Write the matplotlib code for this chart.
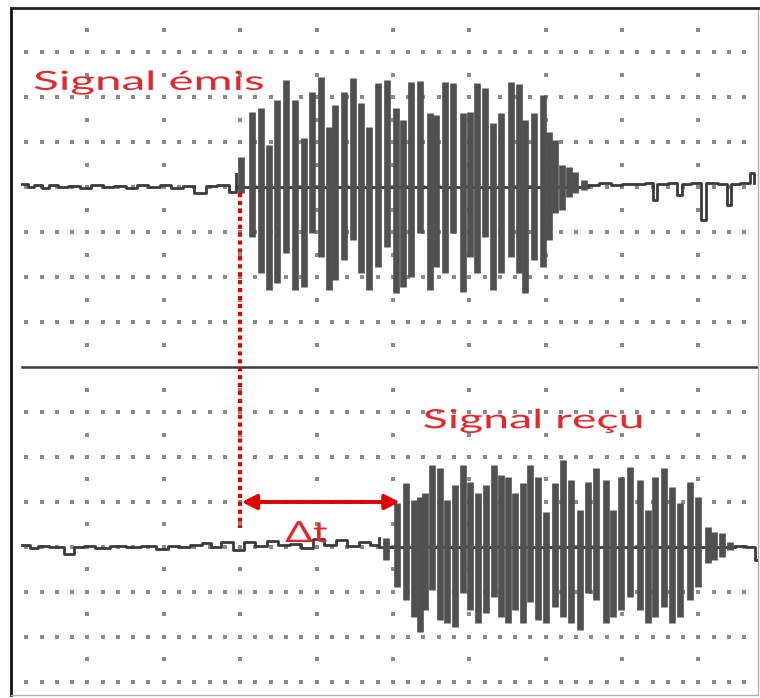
#!/usr/bin/env python
# -*- coding: utf-8 -*-

import numpy as np
import matplotlib
matplotlib.use('Agg')
import matplotlib.pyplot as plt
from matplotlib import patheffects
from matplotlib.transforms import Affine2D

# unites : divisions de l'ecran (x : temps, y : tension relative a la voie)
VOIE_EMIS = 4.0
VOIE_RECU = -4.0

# salve emise : position des barres et extremes haut / bas
emis_x = [3.01, 3.15, 3.27, 3.38, 3.48, 3.60, 3.72, 3.84, 3.94, 4.06,
          4.16, 4.24, 4.36, 4.48, 4.58, 4.69, 4.80, 4.92, 5.04, 5.13,
          5.24, 5.35, 5.48, 5.56, 5.68, 5.79, 5.92, 6.01, 6.10, 6.20,
          6.31, 6.41, 6.54, 6.65, 6.73, 6.85, 6.96, 7.05, 7.12, 7.21,
          7.30, 7.38, 7.50]
emis_hi = [0.67, 1.67, 1.76, 0.93, 1.93, 2.38, 1.93, 1.09, 2.11, 2.44,
           1.33, 1.82, 2.11, 2.42, 1.87, 1.33, 2.31, 2.38, 1.76, 1.49,
           2.33, 2.36, 1.64, 1.60, 2.34, 2.31, 1.64, 1.67, 2.31, 2.20,
           1.42, 1.64, 2.33, 2.30, 1.49, 1.64, 2.04, 1.22, 1.04, 0.49,
           0.44, 0.33, 0.16]
emis_lo = [-0.13, -1.11, -1.91, -2.29, -2.13, -1.47, -2.29, -2.22, -1.02, -1.56,
           -2.29, -2.07, -1.62, -1.18, -1.91, -2.29, -1.78, -1.33, -2.36, -2.22,
           -2.00, -1.02, -2.29, -1.78, -1.91, -1.02, -2.33, -1.56, -1.91, -1.11,
           -2.29, -1.91, -1.56, -1.91, -2.36, -1.62, -1.78, -1.18, -0.58, -0.51,
           -0.22, -0.13, -0.07]

# bruit de la voie emise avant / apres la salve
emis_pre_x = [0.15, 0.22, 0.30, 0.40, 0.50, 0.62, 0.75, 0.90, 1.05, 1.20, 1.35,
              1.50, 1.65, 1.80, 1.95, 2.10, 2.25, 2.40, 2.55, 2.70, 2.85, 2.95]
emis_pre_y = [0.06, 0.01, 0.05, -0.02, 0.04, 0.00, 0.03, -0.03, 0.05, 0.00, 0.03,
              -0.02, 0.04, 0.00, 0.05, -0.03, 0.03, -0.14, 0.02, 0.04, -0.12, 0.30]
emis_post_x = [7.55, 7.70, 7.85, 8.00, 8.15, 8.30, 8.40, 8.46, 8.60, 8.72,
               8.78, 8.90, 9.04, 9.10, 9.25, 9.37, 9.43, 9.55, 9.67, 9.73]
emis_post_y = [0.04, 0.08, 0.05, 0.07, 0.06, 0.08, -0.29, 0.07, 0.08, -0.18,
               0.07, 0.09, -0.73, 0.08, 0.06, -0.40, 0.07, 0.09, 0.31, 0.08]

# salve recue
recu_x = [4.91, 5.05, 5.17, 5.27, 5.35, 5.42, 5.51, 5.62, 5.71, 5.81,
          5.92, 6.01, 6.11, 6.22, 6.32, 6.41, 6.51, 6.60, 6.70, 6.79,
          6.90, 7.00, 7.12, 7.23, 7.33, 7.45, 7.55, 7.66, 7.79, 7.88,
          7.98, 8.10, 8.23, 8.34, 8.43, 8.55, 8.66, 8.76, 8.89, 8.99,
          9.12, 9.20, 9.31, 9.41]
recu_hi = [0.20, 0.98, 1.42, 1.04, 1.11, 1.20, 1.82, 1.76, 1.04, 1.38,
           1.82, 1.44, 1.20, 1.38, 1.82, 1.60, 1.56, 1.20, 1.42, 1.82,
           1.56, 0.78, 1.42, 1.93, 1.49, 0.82, 1.44, 1.76, 1.49, 0.82,
           1.56, 1.78, 1.49, 0.82, 1.56, 1.76, 1.33, 0.98, 1.44, 1.11,
           0.44, 0.33, 0.31, 0.11]
recu_lo = [-0.29, -0.89, -1.18, -1.56, -1.89, -1.40, -0.96, -1.62, -1.69, -1.78,
           -1.02, -1.40, -1.69, -1.47, -1.11, -1.56, -1.69, -1.40, -1.69, -1.22,
           -1.62, -1.69, -1.33, -1.56, -1.69, -1.84, -1.02, -1.18, -1.69, -1.56,
           -1.40, -1.11, -1.40, -1.69, -1.56, -1.33, -1.69, -1.56, -1.18, -0.89,
           -0.36, -0.29, -0.22, -0.07]

recu_pre_x = [0.15, 0.25, 0.35, 0.50, 0.70, 0.82, 0.95, 1.10, 1.30, 1.50,
              1.70, 1.90, 2.05, 2.20, 2.35, 2.50, 2.62, 2.75, 2.90, 3.05,
              3.20, 3.35, 3.50, 3.65, 3.80, 3.95, 4.10, 4.25, 4.40, 4.55,
              4.70, 4.82]
recu_pre_y = [0.04, -0.03, 0.03, 0.00, -0.15, 0.00, 0.03, -0.02, 0.03, 0.00,
              0.03, -0.04, 0.02, 0.00, 0.04, 0.08, 0.00, 0.10, -0.06, 0.12,
              0.03, 0.14, 0.04, 0.06, -0.02, 0.18, 0.04, 0.16, 0.03, 0.10,
              0.05, 0.20]
recu_post_x = [9.48, 9.62, 9.74, 9.78]
recu_post_y = [0.02, 0.00, -0.29, -0.29]

# repere du retard
t_emis = 3.0
t_recu = 5.09
fleche_y = -3.0

ROUGE = '#e00000'
ROUGE_TXT = '#e3282c'
GRIS = '#505050'


class _Etire(patheffects.AbstractPathEffect):
    # etire le texte horizontalement (capture d'ecran deformee)
    def __init__(self, sx):
        super().__init__()
        self._sx = sx

    def draw_path(self, renderer, gc, tpath, affine, rgbFace=None):
        renderer.draw_path(gc, tpath, Affine2D().scale(self._sx, 1) + affine,
                           rgbFace)


def _grille(ax):
    xs = np.arange(1, 49) * 0.2
    for k in range(-7, 8):
        if k == 0:
            continue
        ax.scatter(xs, np.full(xs.size, k), s=7, marker='s', color='#8a8a8a',
                   linewidths=0, zorder=1)
    ys = np.arange(-7, 8) + 0.5
    for c in range(1, 10):
        ax.scatter(np.full(ys.size, c), ys, s=7, marker='s', color='#8a8a8a',
                   linewidths=0, zorder=1)
    ax.plot([0.15, 9.78], [0, 0], color='#3c3c3c', lw=1.8, zorder=2)


def _voie(ax, centre, pre_x, pre_y, bx, bhi, blo, post_x, post_y):
    trait = dict(color='#3a3a3a', lw=2.0, drawstyle='steps-post', zorder=3)
    ax.plot(pre_x, np.array(pre_y) + centre, **trait)
    ax.plot(post_x, np.array(post_y) + centre, **trait)
    ax.plot([pre_x[-1], post_x[0]], [centre, centre], color='#3a3a3a',
            lw=2.0, zorder=3)
    ax.vlines(bx, np.array(blo) + centre, np.array(bhi) + centre,
              color=GRIS, lw=4.8, zorder=4)


def _plot():
    fig = plt.figure(figsize=(7.6, 6.98), dpi=100)
    ax = fig.add_axes([11 / 760, 3 / 698, 747 / 760, 687 / 698])
    ax.set_xlim(0, 9.78)
    ax.set_ylim(-7.29, 7.98)
    ax.set_xticks([])
    ax.set_yticks([])
    ax.spines['left'].set_linewidth(2.0)
    ax.spines['left'].set_color('#111111')
    ax.spines['top'].set_linewidth(2.0)
    ax.spines['top'].set_color('#222222')
    ax.spines['right'].set_linewidth(1.0)
    ax.spines['right'].set_color('#b0b0b0')
    ax.spines['bottom'].set_linewidth(1.0)
    ax.spines['bottom'].set_color('#b0b0b0')

    _grille(ax)
    _voie(ax, VOIE_EMIS, emis_pre_x, emis_pre_y, emis_x, emis_hi, emis_lo,
          emis_post_x, emis_post_y)
    _voie(ax, VOIE_RECU, recu_pre_x, recu_pre_y, recu_x, recu_hi, recu_lo,
          recu_post_x, recu_post_y)

    # pointilles rouges et fleche du retard
    ax.plot([t_emis, t_emis], [3.87, -3.58], color=ROUGE, lw=3.0,
            linestyle=(0, (1, 0.9)), zorder=5)
    ax.annotate('', xy=(t_emis + 0.02, fleche_y), xytext=(t_recu, fleche_y),
                arrowprops=dict(arrowstyle='<|-|>', color=ROUGE, lw=2.8,
                                mutation_scale=22, shrinkA=0, shrinkB=0),
                zorder=6)

    police = ['Lato', 'DejaVu Sans']
    ax.text(0.29, 6.16, 'Signal émis', color=ROUGE_TXT, fontsize=19,
            family=police, ha='left', va='baseline', zorder=7,
            path_effects=[_Etire(1.8)])
    ax.text(5.39, -1.36, 'Signal reçu', color=ROUGE_TXT, fontsize=19,
            family=police, ha='left', va='baseline', zorder=7,
            path_effects=[_Etire(1.76)])
    ax.text(3.59, -3.89, 'Δt', color=ROUGE_TXT, fontsize=21,
            family=police, ha='left', va='baseline', zorder=7,
            path_effects=[_Etire(1.4)])

    fig.savefig('out.png', dpi=100)


if __name__ == '__main__':
    _plot()
